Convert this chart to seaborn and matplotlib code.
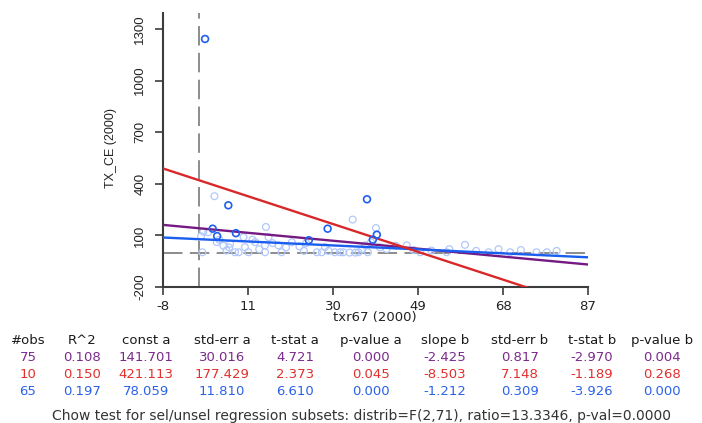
import numpy as np
import pandas as pd
import matplotlib
matplotlib.use("Agg")
import matplotlib.pyplot as plt
import seaborn as sns

# Selected subset of observations (n=10)
sel_x = [1.4, 6.6, 3.1, 4.1, 8.3, 28.8, 37.6, 39.8, 38.9, 24.6]
sel_y = [1242, 275, 139, 96, 113, 139, 310, 104, 75, 72]

# Unselected observations (n=65)
unsel_x = [0.5, 1.0, 2.1, 3.5, 4.0, 4.6, 5.5, 6.2, 6.8, 7.0,
           8.1, 8.9, 10.3, 11.1, 12.0, 12.6, 13.5, 14.8, 14.8, 15.0,
           15.6, 16.5, 17.8, 18.5, 19.5, 20.8, 22.5, 23.5, 24.0, 26.4,
           27.5, 28.2, 29.0, 30.4, 31.6, 32.3, 33.7, 34.4, 35.0, 35.7,
           36.5, 37.2, 37.8, 38.5, 39.6, 40.5, 42.0, 44.0, 46.5, 48.0,
           49.5, 52.0, 55.4, 56.0, 59.5, 62.0, 64.8, 67.0, 69.6, 72.0,
           75.5, 77.8, 80.0, 0.8, 10.0]
unsel_y = [95, 122, 118, 328, 61, 75, 40, 12, 30, 51,
           2, 2, 32, 2, 75, 61, 20, 42, 2, 149,
           90, 55, 42, 2, 30, 60, 36, 10, 55, 2,
           2, 32, 10, 2, 2, 2, 0, 192, 0, 2,
           20, 42, 2, 60, 143, 30, 20, 40, 42, 15,
           2, 12, 2, 20, 45, 10, 2, 20, 2, 15,
           2, 2, 10, 2, 90]

# Regression summary: all / selected / unselected
n_obs = ["75", "10", "65"]
r_sq = ["0.108", "0.150", "0.197"]
const_a = [141.701, 421.113, 78.059]
se_a = ["30.016", "177.429", "11.810"]
t_a = ["4.721", "2.373", "6.610"]
p_a = ["0.000", "0.045", "0.000"]
slope_b = [-2.425, -8.503, -1.212]
se_b = ["0.817", "7.148", "0.309"]
t_b = ["-2.970", "-1.189", "-3.926"]
p_b = ["0.004", "0.268", "0.000"]
headers = ["#obs", "R^2", "const a", "std-err a", "t-stat a", "p-value a",
           "slope b", "std-err b", "t-stat b", "p-value b"]
chow_text = ("Chow test for sel/unsel regression subsets: "
             "distrib=F(2,71), ratio=13.3346, p-val=0.0000")

row_colors = ["#7b2a8c", "#e0302e", "#2a62e8"]
line_colors = ["#751a82", "#d8282a", "#1a5ef0"]

sns.set_style("ticks")
plt.rcParams["font.family"] = ["DejaVu Sans"]
plt.rcParams["axes.unicode_minus"] = False

W, H = 702, 423
fig = plt.figure(figsize=(W / 100, H / 100), dpi=100)
ax = fig.add_axes([163 / W, 1 - 287 / H, (588 - 163) / W, (287 - 13) / H])

x_lo, x_hi = -8, 87
y_lo, y_hi = -200, 1393

# reference lines at zero
ax.axvline(0, color="#8c8c8c", lw=1.4, dashes=(10, 3.8), zorder=1)
ax.axhline(0, color="#8c8c8c", lw=1.4, dashes=(10, 3.8), zorder=1)

pts = pd.DataFrame({
    "x": unsel_x + sel_x,
    "y": unsel_y + sel_y,
    "grp": ["unsel"] * len(unsel_x) + ["sel"] * len(sel_x),
})
sns.scatterplot(data=pts[pts.grp == "unsel"], x="x", y="y", ax=ax,
                marker="o", s=24, facecolors="none", edgecolor="#b0c8fb",
                linewidth=0.9, zorder=2, legend=False)
sns.scatterplot(data=pts[pts.grp == "sel"], x="x", y="y", ax=ax,
                marker="o", s=24, facecolors="none", edgecolor="#1f5ff0",
                linewidth=1.2, zorder=5, legend=False)

# fitted regression lines from the coefficient table
xs = np.array([x_lo, x_hi], dtype=float)
for i in [0, 2, 1]:
    fit = pd.DataFrame({"x": xs, "y": const_a[i] + slope_b[i] * xs})
    sns.lineplot(data=fit, x="x", y="y", ax=ax, color=line_colors[i],
                 lw=1.7, zorder=4, legend=False)

ax.set_xlim(x_lo, x_hi)
ax.set_ylim(y_lo, y_hi)
ax.set_xticks([-8, 11, 30, 49, 68, 87])
ax.set_yticks([-200, 100, 400, 700, 1000, 1300])
ax.margins(0)
sns.despine(ax=ax)
for s in ["left", "bottom"]:
    ax.spines[s].set_color("#3c3c3c")
    ax.spines[s].set_linewidth(1.5)
ax.tick_params(axis="both", length=6, width=1.2, color="#3c3c3c",
               labelcolor="#222222")
ax.tick_params(axis="x", labelsize=9.5, pad=3)
ax.tick_params(axis="y", pad=6)
for lab in ax.get_yticklabels():
    lab.set_rotation(90)
    lab.set_va("center")
    lab.set_family(["Liberation Sans"])
    lab.set_fontsize(9.5)
ax.set_xlabel("")
ax.set_ylabel("")

def ftxt(x, y, s, **kw):
    fig.text(x / W, 1 - y / H, s, **kw)

ftxt(375, 318, "txr67 (2000)", ha="center", va="center", fontsize=9.5,
     color="#222222")
ftxt(111, 148, "TX_CE (2000)", ha="center", va="center", fontsize=9,
     rotation=90, color="#222222", family=["Liberation Sans"])

# summary table
col_x = [28, 82, 146, 222, 295, 371, 445, 520, 592, 662]
for cx, h in zip(col_x, headers):
    ftxt(cx, 340, h, ha="center", va="center", fontsize=9.5, color="#1a1a1a")
row_y = [357, 374, 391]
for r in range(3):
    vals = [n_obs[r], r_sq[r], f"{const_a[r]:.3f}", se_a[r], t_a[r], p_a[r],
            f"{slope_b[r]:.3f}", se_b[r], t_b[r], p_b[r]]
    for cx, v in zip(col_x, vals):
        ftxt(cx, row_y[r], v, ha="center", va="center", fontsize=9.5,
             color=row_colors[r])
ftxt(362, 416, chow_text, ha="center", va="center", fontsize=10,
     color="#333333")

fig.savefig("out.png", dpi=100)
